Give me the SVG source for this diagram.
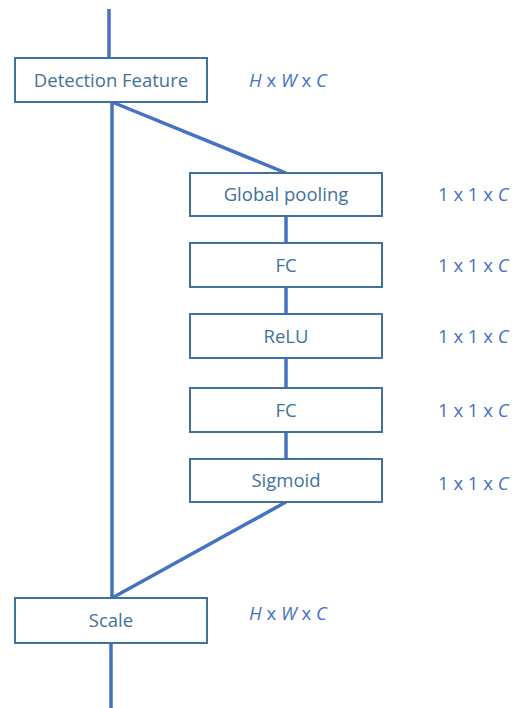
<svg xmlns="http://www.w3.org/2000/svg" width="513" height="708" viewBox="0 0 513 708">
<style>
.box{fill:#fff;stroke:#41719c;stroke-width:2}
.t{font-family:"Open Sans","Liberation Sans",sans-serif;font-size:18.5px;fill:#41719c;text-anchor:middle}
.d{font-family:"Open Sans","Liberation Sans",sans-serif;font-size:18.5px;fill:#4472c4}
.c{stroke:#4472c4;stroke-width:3.5;fill:none}
</style>
<rect width="513" height="708" fill="#fff"/>
<g id="connectors">
<line class="c" x1="109" y1="9" x2="109" y2="58"/>
<line class="c" x1="112" y1="102" x2="112" y2="598"/>
<line class="c" x1="112" y1="102" x2="286" y2="173"/>
<line class="c" x1="286" y1="216" x2="286" y2="243"/>
<line class="c" x1="286" y1="287" x2="286" y2="314"/>
<line class="c" x1="286" y1="358" x2="286" y2="388"/>
<line class="c" x1="286" y1="432" x2="286" y2="459"/>
<line class="c" x1="286" y1="502" x2="112" y2="598"/>
<line class="c" x1="111" y1="643" x2="111" y2="708"/>
</g>
<g id="detection">
<rect class="box" x="15" y="58" width="192" height="44"/>
<text class="t" x="111" y="87">Detection Feature</text>
</g>
<g id="gpool">
<rect class="box" x="190" y="173" width="192" height="43"/>
<text class="t" x="286" y="201">Global pooling</text>
</g>
<g id="fc1">
<rect class="box" x="190" y="243" width="192" height="44"/>
<text class="t" x="286" y="272">FC</text>
</g>
<g id="relu">
<rect class="box" x="190" y="314" width="192" height="44"/>
<text class="t" x="286" y="343">ReLU</text>
</g>
<g id="fc2">
<rect class="box" x="190" y="388" width="192" height="44"/>
<text class="t" x="286" y="417">FC</text>
</g>
<g id="sigmoid">
<rect class="box" x="190" y="459" width="192" height="43"/>
<text class="t" x="286" y="487">Sigmoid</text>
</g>
<g id="scale">
<rect class="box" x="15" y="598" width="192" height="45"/>
<text class="t" x="111" y="627">Scale</text>
</g>
<g id="dims">
<text class="d" x="249" y="87"><tspan font-style="italic">H</tspan> x <tspan font-style="italic">W</tspan> x <tspan font-style="italic">C</tspan></text>
<text class="d" x="438" y="201">1 x 1 x <tspan font-style="italic">C</tspan></text>
<text class="d" x="438" y="272">1 x 1 x <tspan font-style="italic">C</tspan></text>
<text class="d" x="438" y="343">1 x 1 x <tspan font-style="italic">C</tspan></text>
<text class="d" x="438" y="417">1 x 1 x <tspan font-style="italic">C</tspan></text>
<text class="d" x="438" y="490">1 x 1 x <tspan font-style="italic">C</tspan></text>
<text class="d" x="249" y="620"><tspan font-style="italic">H</tspan> x <tspan font-style="italic">W</tspan> x <tspan font-style="italic">C</tspan></text>
</g>
</svg>
